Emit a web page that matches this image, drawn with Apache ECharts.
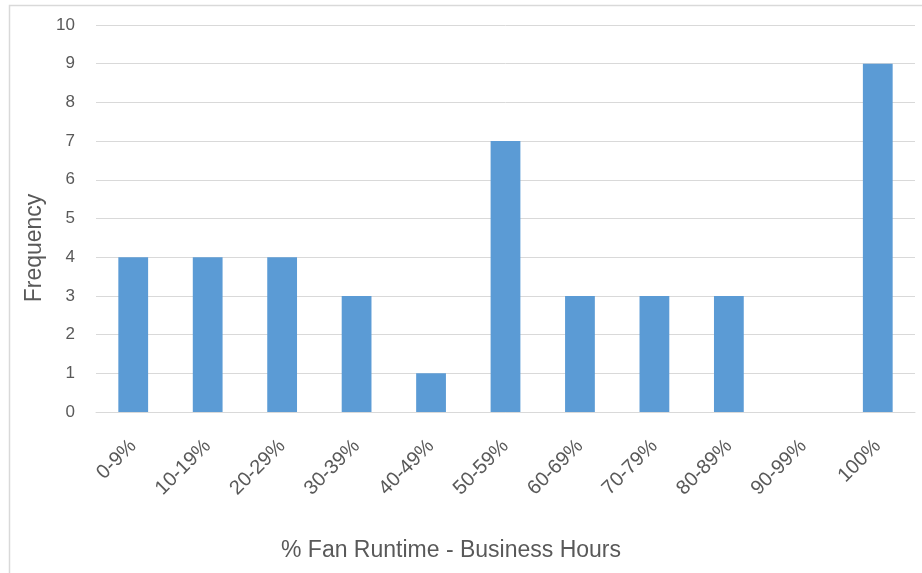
<!DOCTYPE html>
<html>
<head>
<meta charset="utf-8">
<title>Fan Runtime Histogram</title>
<script src="https://cdn.jsdelivr.net/npm/echarts@6/dist/echarts.min.js"></script>
<style>
  html, body { margin: 0; padding: 0; background: #fff; }
  #chart { width: 922px; height: 573px; }
</style>
</head>
<body>
<div id="chart"></div>
<script>
var categories = ['0-9%', '10-19%', '20-29%', '30-39%', '40-49%', '50-59%',
                  '60-69%', '70-79%', '80-89%', '90-99%', '100%'];
var frequency = [4, 4, 4, 3, 1, 7, 3, 3, 3, 0, 9];
var yTicks = [0, 1, 2, 3, 4, 5, 6, 7, 8, 9, 10];

var font = 'Liberation Sans';
var myChart = echarts.init(document.getElementById('chart'));

var option = {
  animation: false,
  grid: { left: 96, right: 7, top: 25, bottom: 161 },
  graphic: [
    // chart frame (right edge is off-screen in the reference)
    {
      type: 'rect',
      shape: { x: 9.5, y: 5.5, width: 940, height: 600 },
      style: { fill: 'none', stroke: '#d9d9d9', lineWidth: 1.5 }
    },
    {
      type: 'text',
      x: 35, y: 248,
      rotation: Math.PI / 2,
      style: {
        text: 'Frequency', font: '23px ' + font, fill: '#595959',
        align: 'center', verticalAlign: 'middle'
      }
    },
    {
      type: 'text',
      x: 451, y: 551,
      style: {
        text: '% Fan Runtime - Business Hours', font: '23px ' + font, fill: '#595959',
        align: 'center', verticalAlign: 'middle'
      }
    }
  ],
  xAxis: {
    type: 'category',
    data: categories,
    axisTick: { show: false },
    axisLine: { lineStyle: { color: '#d9d9d9', width: 1 } },
    axisLabel: {
      rotate: 45, interval: 0, margin: 31,
      color: '#595959', fontSize: 20, fontFamily: font
    }
  },
  yAxis: {
    type: 'value',
    min: yTicks[0], max: yTicks[yTicks.length - 1], interval: 1,
    axisLine: { show: false },
    axisTick: { show: false },
    splitLine: { lineStyle: { color: '#d9d9d9', width: 1 } },
    axisLabel: { color: '#595959', fontSize: 17, fontFamily: font, margin: 21 }
  },
  series: [
    {
      name: 'Frequency',
      type: 'bar',
      data: frequency,
      barWidth: '40%',
      itemStyle: { color: '#5b9bd5' }
    }
  ]
};

myChart.setOption(option);
</script>
</body>
</html>
